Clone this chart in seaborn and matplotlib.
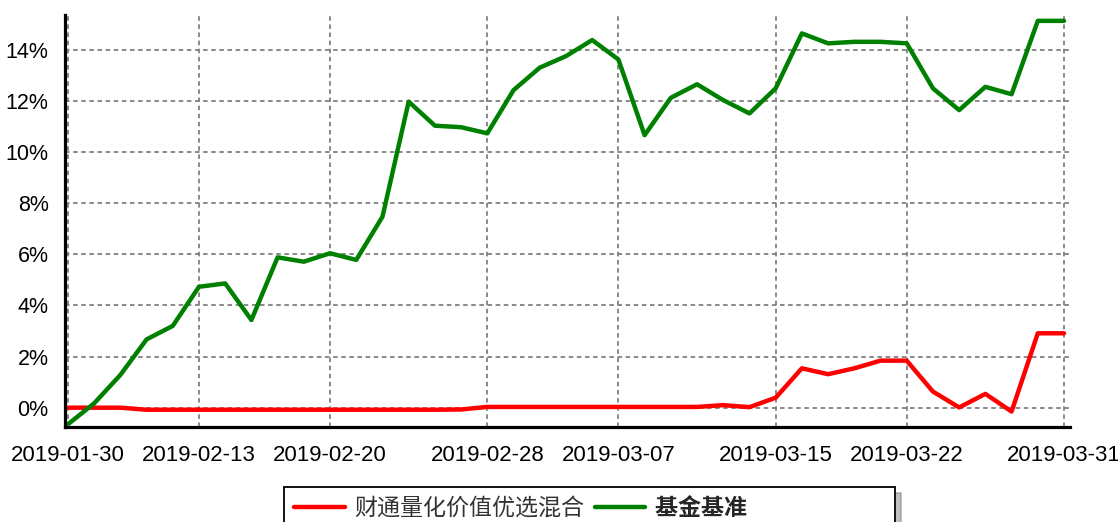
import pandas as pd
import matplotlib
matplotlib.use("Agg")
import matplotlib.pyplot as plt
from matplotlib.ticker import PercentFormatter, MultipleLocator, FixedLocator
import seaborn as sns

# trading days shown on the chart (index positions) and their labels
tick_pos = [0, 5, 10, 16, 21, 27, 32, 38]
tick_labels = ["2019-01-30", "2019-02-13", "2019-02-20", "2019-02-28",
               "2019-03-07", "2019-03-15", "2019-03-22", "2019-03-31"]

fund_name = "财通量化价值优选混合"
bench_name = "基金基准"

# cumulative return, %
fund = [0.0, 0.0, 0.0, -0.08, -0.08, -0.08, -0.08, -0.08, -0.08, -0.08,
        -0.08, -0.08, -0.08, -0.08, -0.08, -0.07, 0.03, 0.03, 0.03, 0.03,
        0.03, 0.03, 0.03, 0.03, 0.03, 0.10, 0.02, 0.39, 1.54, 1.31,
        1.54, 1.84, 1.84, 0.63, 0.01, 0.54, -0.15, 2.91, 2.91]
bench = [-0.65, 0.17, 1.28, 2.67, 3.20, 4.73, 4.86, 3.43, 5.88, 5.71,
         6.04, 5.78, 7.47, 11.97, 11.03, 10.97, 10.73, 12.42, 13.30, 13.75,
         14.38, 13.62, 10.66, 12.12, 12.65, 12.03, 11.51, 12.49, 14.64, 14.25,
         14.31, 14.31, 14.25, 12.49, 11.64, 12.55, 12.26, 15.13, 15.13]

df = pd.DataFrame({
    "idx": list(range(len(fund))) * 2,
    "value": fund + bench,
    "series": [fund_name] * len(fund) + [bench_name] * len(bench),
})

sns.set_style("white")
plt.rcParams["font.family"] = ["Liberation Sans", "Noto Sans CJK SC"]

fig = plt.figure(figsize=(11.18, 5.22), dpi=100)
ax = fig.add_axes([0.0577, 0.1826, 0.8994, 0.7887])

sns.lineplot(data=df, x="idx", y="value", hue="series",
             palette={fund_name: "#ff0000", bench_name: "#008000"},
             linewidth=3.2, ax=ax)

handles, labels = ax.get_legend_handles_labels()
ax.get_legend().remove()

ax.set_xlim(-0.13, 38.23)
ax.set_ylim(-0.743, 15.36)
ax.set_xlabel("")
ax.set_ylabel("")

ax.xaxis.set_major_locator(FixedLocator(tick_pos))
ax.set_xticklabels(tick_labels)
minor_x = []
for a, b in zip(tick_pos[:-1], tick_pos[1:]):
    minor_x += [a + (b - a) * k / 4 for k in (1, 2, 3)]
ax.xaxis.set_minor_locator(FixedLocator(minor_x))

ax.yaxis.set_major_locator(MultipleLocator(2))
ax.yaxis.set_minor_locator(MultipleLocator(0.5))
ax.yaxis.set_major_formatter(PercentFormatter(decimals=0))

ax.tick_params(axis="both", which="both", direction="out", color="#808080",
               length=5, width=1.3, labelcolor="black")
ax.tick_params(axis="x", which="major", labelsize=16, pad=8)
ax.tick_params(axis="y", which="major", labelsize=15.5, pad=6.5)

ax.grid(True, which="major", color="#808080", linestyle=(0, (2.5, 2)), linewidth=1.3)

for side in ["top", "right"]:
    ax.spines[side].set_visible(False)
for side in ["left", "bottom"]:
    ax.spines[side].set_color("black")
    ax.spines[side].set_linewidth(2.3)

# pad the second label so the box stretches like the original
labels = [labels[0], labels[1] + "\u3000" * 6]
leg = fig.legend(handles, labels, loc="upper left", bbox_to_anchor=(0.254, 0.067),
                 ncol=2, frameon=True, fontsize=16.6, handlelength=2.2,
                 handletextpad=0.4, columnspacing=0.45, borderpad=0.45,
                 borderaxespad=0, fancybox=False,
                 shadow={"ox": 4, "oy": -4, "color": "#808080"})
leg.get_frame().set_edgecolor("black")
leg.get_frame().set_linewidth(1.3)
leg.get_frame().set_alpha(1)
for line in leg.get_lines():
    line.set_linewidth(3.2)
leg.get_texts()[1].set_fontweight("bold")
leg.get_texts()[0].set_color("#333333")

fig.savefig("out.png", dpi=100)
